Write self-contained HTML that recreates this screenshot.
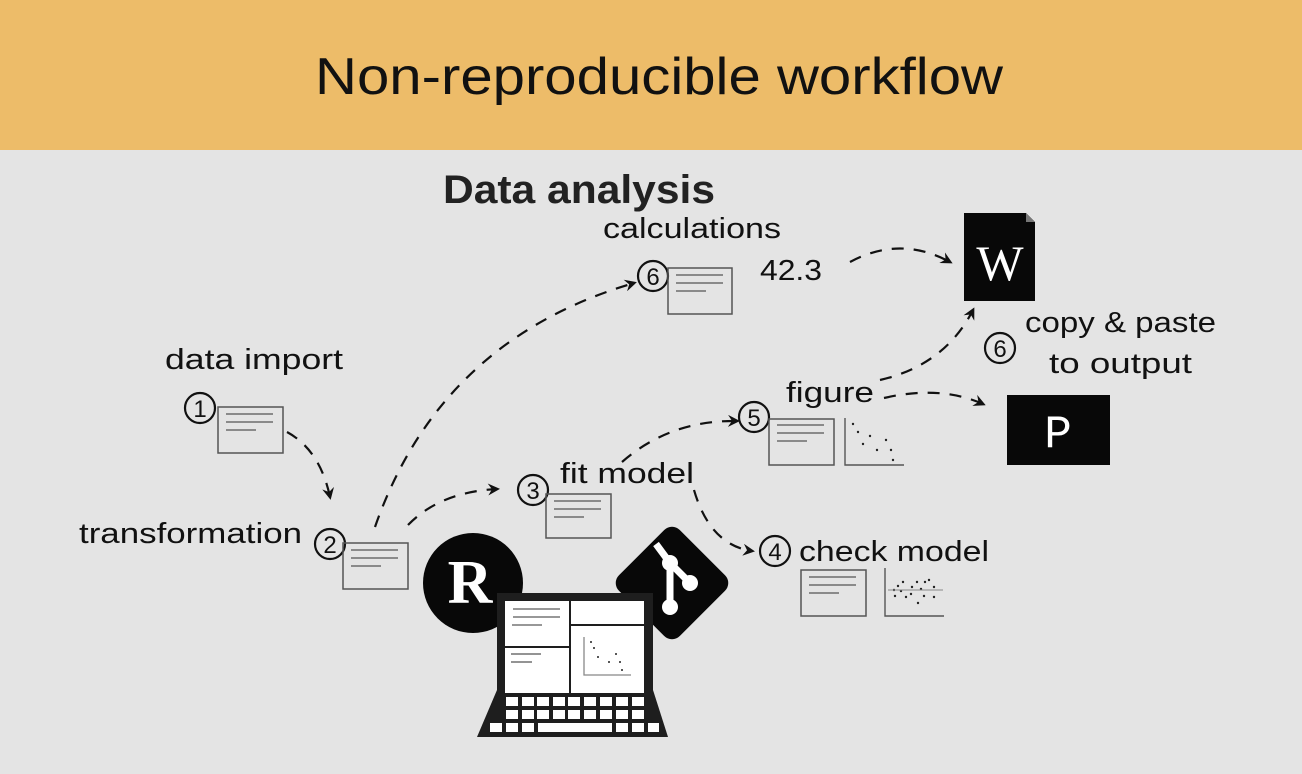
<!DOCTYPE html>
<html><head><meta charset="utf-8"><style>
html,body{margin:0;padding:0;background:#e4e4e4}
svg{display:block}
text{font-family:"Liberation Sans",sans-serif}
</style></head><body>
<svg width="1302" height="774" viewBox="0 0 1302 774" xmlns="http://www.w3.org/2000/svg">
<defs>
<marker id="ah" markerWidth="12" markerHeight="12" refX="9" refY="6" orient="auto" markerUnits="userSpaceOnUse">
<path d="M0,0 L12,6 L0,12 L4,6 Z" fill="#111"/>
</marker>
</defs>
<rect width="1302" height="774" fill="#e4e4e4"/>
<rect x="0" y="0" width="1302" height="150" fill="#edbc69"/>
<g fill="#111">
<text x="315" y="94" font-size="52" textLength="688" lengthAdjust="spacingAndGlyphs">Non-reproducible workflow</text>
<text x="443" y="203" font-size="40" font-weight="bold" textLength="272" lengthAdjust="spacingAndGlyphs" fill="#222">Data analysis</text>

<text x="603" y="238" font-size="29" textLength="178" lengthAdjust="spacingAndGlyphs">calculations</text>
<text x="760" y="280" font-size="29" textLength="62" lengthAdjust="spacingAndGlyphs">42.3</text>
<text x="165" y="369" font-size="29" textLength="178" lengthAdjust="spacingAndGlyphs">data import</text>
<text x="79" y="543" font-size="29" textLength="223" lengthAdjust="spacingAndGlyphs">transformation</text>
<text x="560" y="483" font-size="29" textLength="134" lengthAdjust="spacingAndGlyphs">fit model</text>
<text x="786" y="402" font-size="29" textLength="88" lengthAdjust="spacingAndGlyphs">figure</text>
<text x="799" y="561" font-size="29" textLength="190" lengthAdjust="spacingAndGlyphs">check model</text>
<text x="1025" y="332" font-size="29" textLength="191" lengthAdjust="spacingAndGlyphs">copy &amp; paste</text>
<text x="1049" y="373" font-size="29" textLength="143" lengthAdjust="spacingAndGlyphs">to output</text>
</g>

<!-- circled numbers -->
<g fill="none" stroke="#111" stroke-width="2.2">
<circle cx="200" cy="408" r="15"/>
<circle cx="330" cy="544" r="15"/>
<circle cx="533" cy="490" r="15"/>
<circle cx="754" cy="417" r="15"/>
<circle cx="775" cy="551" r="15"/>
<circle cx="653" cy="276" r="15"/>
<circle cx="1000" cy="348" r="15"/>
</g>
<g font-size="24" text-anchor="middle" fill="#111">
<text x="200" y="417">1</text>
<text x="330" y="553">2</text>
<text x="533" y="499">3</text>
<text x="754" y="426">5</text>
<text x="775" y="560">4</text>
<text x="653" y="285">6</text>
<text x="1000" y="357">6</text>
</g>

<!-- doc boxes -->
<g fill="none" stroke="#555" stroke-width="1.5">
<rect x="218" y="407" width="65" height="46"/>
<rect x="343" y="543" width="65" height="46"/>
<rect x="546" y="494" width="65" height="44"/>
<rect x="668" y="268" width="64" height="46"/>
<rect x="769" y="419" width="65" height="46"/>
<rect x="801" y="570" width="65" height="46"/>
</g>
<g stroke="#555" stroke-width="1.3">
<path d="M226,414h47M226,422h47M226,430h30"/>
<path d="M351,550h47M351,558h47M351,566h30"/>
<path d="M554,501h47M554,509h47M554,517h30"/>
<path d="M676,275h47M676,283h47M676,291h30"/>
<path d="M777,425h47M777,433h47M777,441h30"/>
<path d="M809,577h47M809,585h47M809,593h30"/>
</g>
<!-- plots -->
<g fill="none" stroke="#555" stroke-width="1.4">
<path d="M845,418V465H904"/>
<path d="M885,568V616H944"/>
</g>
<g fill="#222">
<circle cx="853" cy="424" r="1.2"/><circle cx="858" cy="432" r="1.2"/><circle cx="870" cy="436" r="1.2"/><circle cx="863" cy="444" r="1.2"/><circle cx="886" cy="440" r="1.2"/><circle cx="877" cy="450" r="1.2"/><circle cx="891" cy="450" r="1.2"/><circle cx="893" cy="460" r="1.2"/>
<circle cx="894" cy="590" r="1.2"/><circle cx="898" cy="586" r="1.2"/><circle cx="903" cy="582" r="1.2"/><circle cx="901" cy="591" r="1.2"/><circle cx="895" cy="596" r="1.2"/><circle cx="906" cy="597" r="1.2"/><circle cx="912" cy="587" r="1.2"/><circle cx="917" cy="582" r="1.2"/><circle cx="911" cy="594" r="1.2"/><circle cx="921" cy="589" r="1.2"/><circle cx="925" cy="582" r="1.2"/><circle cx="929" cy="580" r="1.2"/><circle cx="924" cy="596" r="1.2"/><circle cx="918" cy="603" r="1.2"/><circle cx="934" cy="587" r="1.2"/><circle cx="934" cy="597" r="1.2"/>
</g>
<path d="M888,590H943" stroke="#888" stroke-width="1"/>

<!-- arrows -->
<g fill="none" stroke="#111" stroke-width="2.2" stroke-dasharray="12,10" marker-end="url(#ah)">
<path d="M287,432 Q320,450 330,497"/>
<path d="M375,527 Q440,340 634,283"/>
<path d="M408,525 Q440,492 497,489"/>
<path d="M622,462 Q670,420 737,421"/>
<path d="M694,490 Q710,545 752,551"/>
<path d="M850,262 Q900,235 950,262"/>
<path d="M880,380 Q945,365 973,310"/>
<path d="M884,398 Q940,385 983,404"/>
</g>

<!-- Word doc -->
<path d="M964,213 H1026 L1035,222 V301 H964 Z" fill="#080808"/>
<path d="M1026,213 L1035,222 H1026 Z" fill="#777"/>
<text x="1000" y="280" font-size="50" text-anchor="middle" style="font-family:'Liberation Serif',serif;fill:#fff">W</text>
<!-- P -->
<rect x="1007" y="395" width="103" height="70" fill="#080808"/>
<text x="1058" y="447" font-size="46" text-anchor="middle" style="font-family:'Liberation Mono',monospace;fill:#fff">P</text>

<!-- R logo -->
<circle cx="473" cy="583" r="50" fill="#080808"/>
<text x="470" y="603" font-size="62" font-weight="bold" text-anchor="middle" style="font-family:'Liberation Serif',serif;fill:#fff">R</text>

<!-- git logo -->
<g transform="translate(672,583) rotate(45)">
<rect x="-43" y="-43" width="86" height="86" rx="11" fill="#080808"/>
</g>
<g stroke="#fff" stroke-width="7" fill="none">
<path d="M656,544 L670,563 L690,583"/>
<path d="M670,563 V605"/>
</g>
<circle cx="670" cy="563" r="8" fill="#fff"/>
<circle cx="690" cy="583" r="8" fill="#fff"/>
<circle cx="670" cy="607" r="8" fill="#fff"/>

<!-- laptop -->
<rect x="497" y="593" width="156" height="110" fill="#1e1e1e"/>
<path d="M497,690 H653 L668,737 H477 Z" fill="#1e1e1e"/>
<rect x="505" y="601" width="64" height="45" fill="#fff"/>
<rect x="505" y="648" width="64" height="45" fill="#fff"/>
<rect x="571" y="601" width="73" height="23" fill="#fff"/>
<rect x="571" y="626" width="73" height="67" fill="#fff"/>
<path d="M513,609h47M513,617h47M512,625h30" stroke="#777" stroke-width="1.5"/>
<path d="M511,654h30M511,662h21" stroke="#555" stroke-width="1.3"/>
<path d="M584,637V675H631" stroke="#888" stroke-width="1.3" fill="none"/>
<g fill="#222"><circle cx="591" cy="642" r="1"/><circle cx="594" cy="648" r="1"/><circle cx="598" cy="657" r="1"/><circle cx="609" cy="662" r="1"/><circle cx="616" cy="654" r="1"/><circle cx="620" cy="662" r="1"/><circle cx="622" cy="670" r="1"/></g>
<g fill="#fff">
<rect x="506" y="697" width="12" height="9"/><rect x="522" y="697" width="12" height="9"/><rect x="537" y="697" width="12" height="9"/><rect x="553" y="697" width="12" height="9"/><rect x="568" y="697" width="12" height="9"/><rect x="584" y="697" width="12" height="9"/><rect x="600" y="697" width="12" height="9"/><rect x="616" y="697" width="12" height="9"/><rect x="632" y="697" width="12" height="9"/>
<rect x="506" y="710" width="12" height="9"/><rect x="522" y="710" width="12" height="9"/><rect x="537" y="710" width="12" height="9"/><rect x="553" y="710" width="12" height="9"/><rect x="568" y="710" width="12" height="9"/><rect x="584" y="710" width="12" height="9"/><rect x="600" y="710" width="12" height="9"/><rect x="616" y="710" width="12" height="9"/><rect x="632" y="710" width="12" height="9"/>
<rect x="490" y="723" width="12" height="9"/><rect x="506" y="723" width="12" height="9"/><rect x="522" y="723" width="12" height="9"/><rect x="538" y="723" width="74" height="9"/><rect x="616" y="723" width="12" height="9"/><rect x="632" y="723" width="12" height="9"/><rect x="648" y="723" width="11" height="9"/>
</g>
</svg>
</body></html>
